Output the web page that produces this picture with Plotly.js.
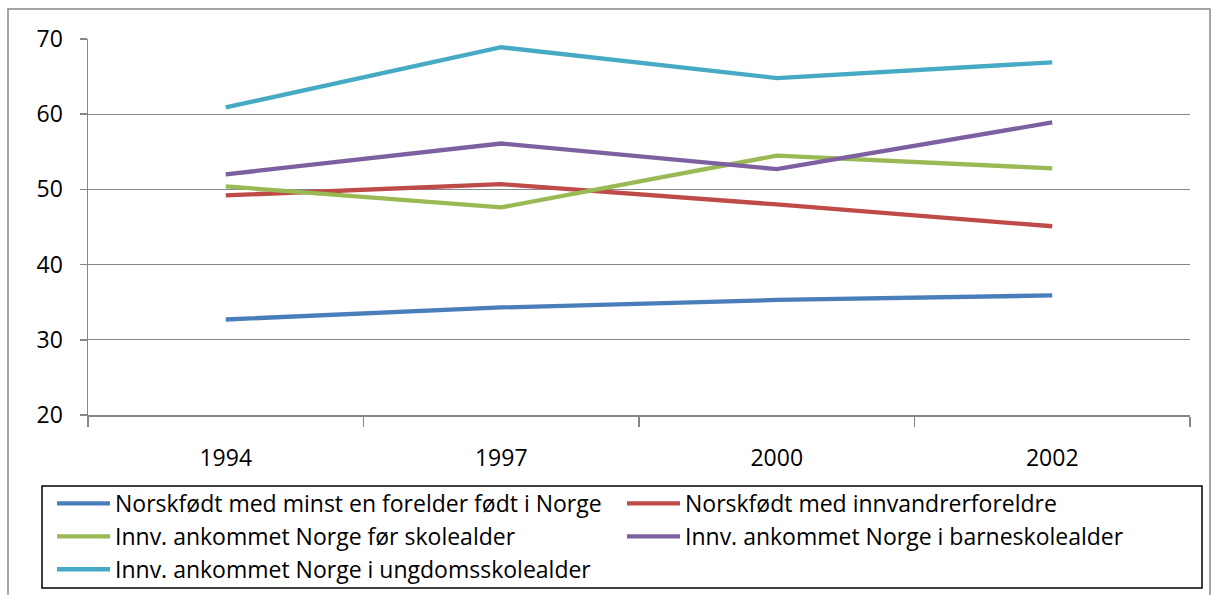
<!DOCTYPE html>
<html><head><meta charset="utf-8">
<script src="https://cdn.plot.ly/plotly-3.0.1.min.js"></script>
<style>html,body{margin:0;padding:0;background:#fff}#c{width:1214px;height:595px}</style>
</head><body><div id="c"></div>
<script>
const years = ['1994','1997','2000','2002'];
const seriesNames = [
  'Norskfødt med minst en forelder født i Norge',
  'Norskfødt med innvandrerforeldre',
  'Innv. ankommet Norge før skolealder',
  'Innv. ankommet Norge i barneskolealder',
  'Innv. ankommet Norge i ungdomsskolealder'
];
const norskMinstEn = [32.7, 34.3, 35.3, 35.9];
const norskInnvForeldre = [49.2, 50.7, 48.0, 45.1];
const forSkolealder = [50.4, 47.6, 54.5, 52.8];
const barneskolealder = [52.0, 56.1, 52.7, 58.9];
const ungdomsskolealder = [60.9, 68.9, 64.8, 66.9];
const colors = ['#4A7EBB','#BE4B48','#98B954','#7D60A0','#46AAC5'];
const values = [norskMinstEn, norskInnvForeldre, forSkolealder, barneskolealder, ungdomsskolealder];

const traces = values.map((v,i)=>({
  x: years, y: v, name: seriesNames[i], type:'scatter', mode:'lines',
  line:{color:colors[i], width:4.3}
}));

const L=88, R=1190, T=39, B=415, W=R-L, H=B-T;
const px = p => (p-L)/W;
const py = p => (B-p)/H;

const layout = {
  width:1214, height:595,
  margin:{l:L, r:1214-R, t:T, b:595-B, autoexpand:false},
  paper_bgcolor:'#fff', plot_bgcolor:'#fff',
  font:{family:'Open Sans, sans-serif', size:23, color:'#000'},
  showlegend:true,
  xaxis:{type:'category', range:[-0.5,3.5], showgrid:false, showline:true, linecolor:'#868686', linewidth:1.5,
    ticks:'outside', tickson:'boundaries', ticklen:10, tickcolor:'#868686', tickwidth:1.5,
    ticklabelstandoff:22, tickfont:{size:23}, zeroline:false, fixedrange:true},
  yaxis:{range:[20,70], dtick:10, tick0:20, showgrid:true, gridcolor:'#868686', gridwidth:1.2,
    showline:true, linecolor:'#868686', linewidth:1.5, ticks:'outside', ticklen:7, tickcolor:'#868686', tickwidth:1.5,
    ticklabelstandoff:12, tickfont:{size:23}, zeroline:false, fixedrange:true},
  legend:{orientation:'h', x:px(52), y:py(482), xanchor:'left', yanchor:'top',
    entrywidth:502, entrywidthmode:'pixels', itemwidth:53, borderwidth:0, bgcolor:'rgba(0,0,0,0)',
    font:{size:23}, tracegroupgap:0},
  shapes:[
    {type:'rect', xref:'paper', yref:'paper', x0:px(8), x1:px(1210), y0:py(620), y1:py(9), line:{color:'#868686', width:1.5}},
    {type:'rect', xref:'paper', yref:'paper', x0:px(42), x1:px(1202), y0:py(588), y1:py(486), line:{color:'#000', width:1.5}}
  ]
};
Plotly.newPlot('c', traces, layout, {displayModeBar:false, staticPlot:true});
</script></body></html>
